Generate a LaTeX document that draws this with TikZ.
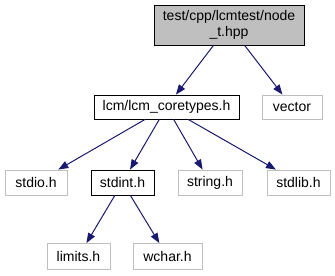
\documentclass[tikz,border=0pt]{standalone}
\usepackage{fontspec}
\setmainfont{Liberation Sans}
\usetikzlibrary{arrows.meta}

\definecolor{edgeblue}{HTML}{191970}
\definecolor{boxgray}{HTML}{BFBFBF}

\begin{document}
\begin{tikzpicture}[
    x=1pt, y=-1pt,
    file/.style={rectangle, draw=black, line width=0.8pt, fill=white, minimum height=24pt, inner sep=0pt, font=\fontsize{14}{16}\selectfont},
    sysfile/.style={file, draw=boxgray},
    dep/.style={draw=edgeblue, line width=1pt, -{Triangle[length=10pt, width=7.5pt, fill=edgeblue]}}
]
\useasboundingbox (0,0) rectangle (335,276);

% Header being documented
\node[file, fill=boxgray, minimum width=150pt, minimum height=40pt, align=center] (node) at (229,25) {test/cpp/lcmtest/node\\\_t.hpp};

% Direct includes
\node[file, minimum width=145pt] (coretypes) at (166.5,107) {lcm/lcm\_coretypes.h};
\node[sysfile, minimum width=60pt] (vector) at (292,107) {vector};

% Includes of lcm_coretypes.h
\node[sysfile, minimum width=62pt, minimum height=25pt] (stdio) at (36,182.5) {stdio.h};
\node[file, minimum width=63pt, minimum height=25pt] (stdint) at (122.5,182.5) {stdint.h};
\node[sysfile, minimum width=64pt, minimum height=25pt] (string) at (210,182.5) {string.h};
\node[sysfile, minimum width=63pt, minimum height=25pt] (stdlib) at (298.5,182.5) {stdlib.h};

% Includes of stdint.h
\node[sysfile, minimum width=63pt, minimum height=26pt] (limits) at (78.5,256.5) {limits.h};
\node[sysfile, minimum width=69pt, minimum height=26pt] (wchar) at (167.5,256.5) {wchar.h};

\draw[dep] (node) -- (coretypes);
\draw[dep] (node) -- (vector);
\draw[dep] (coretypes) -- (stdio);
\draw[dep] (coretypes) -- (stdint);
\draw[dep] (coretypes) -- (string);
\draw[dep] (coretypes) -- (stdlib);
\draw[dep] (stdint) -- (limits);
\draw[dep] (stdint) -- (wchar);

\end{tikzpicture}
\end{document}
